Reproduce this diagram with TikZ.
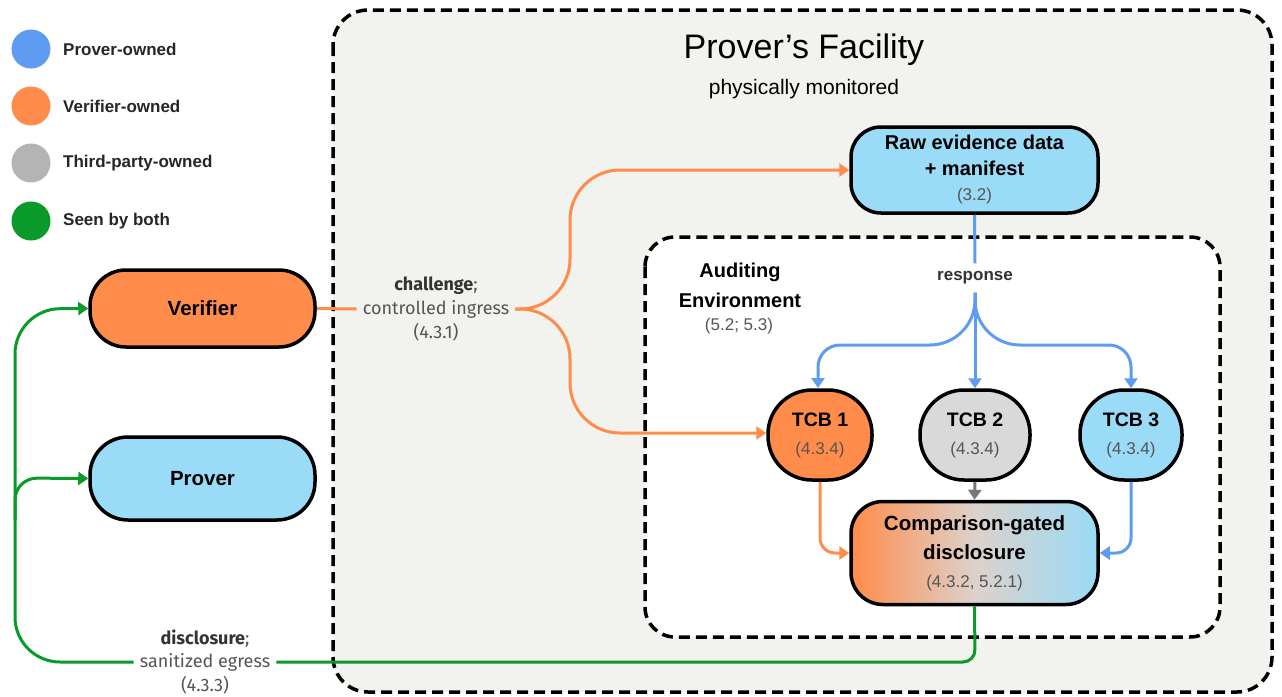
\documentclass[tikz,border=0pt]{standalone}
\usepackage{fontspec}
\setmainfont{Liberation Sans}
\newfontfamily\lblfont{Fira Sans}
\usetikzlibrary{arrows.meta}
\definecolor{pblue}{HTML}{5E9CF2}
\definecolor{vorange}{HTML}{FF8C4A}
\definecolor{tgray}{HTML}{B4B4B4}
\definecolor{bgreen}{HTML}{0A9A2A}
\definecolor{lblue}{HTML}{9ADBF7}
\definecolor{facbg}{HTML}{F2F2EE}
\definecolor{tcbgray}{HTML}{D9D9D9}
\definecolor{arrgray}{HTML}{777777}
\definecolor{txtgray}{HTML}{555555}
\definecolor{darktxt}{HTML}{333333}
\tikzset{
  x=1pt, y=-1pt,
  nodebox/.style={draw=black, line width=3.5pt, align=center, inner sep=0pt, font=\fontsize{20}{26}\selectfont},
  conn/.style={line width=3pt},
  tip/.style={-{Triangle[length=10pt,width=13pt]}},
  refn/.style={font=\fontsize{17}{18}\selectfont, text=txtgray},
  legtxt/.style={anchor=west, font=\fontsize{17}{18}\selectfont\bfseries, text=black!85, inner sep=0pt},
  lbl/.style={font=\lblfont\fontsize{18}{20}\selectfont, text=txtgray, inner sep=6pt},
}
\newcommand{\reftxt}[1]{{\fontsize{17}{18}\selectfont\color{txtgray}#1}}
\begin{document}
\begin{tikzpicture}
\useasboundingbox (0,0) rectangle (1282,696);
\fill[white] (0,0) rectangle (1282,696);

% legend
\fill[pblue] (31,49) circle (19.5);
\node[legtxt] (l1) at (63,49) {Prover-owned};
\fill[vorange] (31,106) circle (19.5);
\node[legtxt] (l2) at (63,106) {Verifier-owned};
\fill[tgray] (31,163) circle (19.5);
\node[legtxt] (l3) at (63,163) {Third-party-owned};
\fill[bgreen] (31,221) circle (19.5);
\node[legtxt] (l4) at (63,221) {Seen by both};

% facility
\draw[fill=facbg, line width=3.5pt, dash pattern=on 11pt off 6pt, rounded corners=35] (333,10) rectangle (1272,692);
\node (title) at (804,50) {\fontsize{34}{38}\selectfont Prover’s Facility};
\node (phys) at (804,89) {\fontsize{21}{24}\selectfont physically monitored};

% auditing environment
\draw[fill=white, line width=3.5pt, dash pattern=on 11pt off 6pt, rounded corners=30] (645,237) rectangle (1220,637);
\node[align=center, font=\fontsize{20}{30}\selectfont\bfseries] (audit) at (740,285) {Auditing\\Environment};
\node[refn] (auditref) at (739,326) {(5.2; 5.3)};

% nodes
\node[nodebox, fill=vorange, minimum width=225pt, minimum height=77pt, rounded corners=36pt, font=\fontsize{20.5}{24}\selectfont\bfseries] (ver) at (202.5,308.5) {Verifier};
\node[nodebox, fill=lblue, minimum width=225pt, minimum height=83pt, rounded corners=38pt, font=\fontsize{20.5}{24}\selectfont\bfseries] (pro) at (202.5,478.5) {Prover};

\node[nodebox, fill=lblue, minimum width=247pt, minimum height=86pt, rounded corners=30pt] (raw) at (974.5,170)
  {\textbf{Raw evidence data}\\\textbf{+ manifest}\\[-1pt]\reftxt{(3.2)}};

\node[nodebox, fill=vorange, minimum width=104pt, minimum height=90pt, rounded corners=44pt, font=\fontsize{19.5}{28}\selectfont] (tcb1) at (820,435)
  {\textbf{TCB 1}\\\reftxt{(4.3.4)}};
\node[nodebox, fill=tcbgray, minimum width=110pt, minimum height=90pt, rounded corners=44pt, font=\fontsize{19.5}{28}\selectfont] (tcb2) at (975,435)
  {\textbf{TCB 2}\\\reftxt{(4.3.4)}};
\node[nodebox, fill=lblue, minimum width=102pt, minimum height=90pt, rounded corners=44pt, font=\fontsize{19.5}{28}\selectfont] (tcb3) at (1131,435)
  {\textbf{TCB 3}\\\reftxt{(4.3.4)}};

\node[nodebox, left color=vorange, right color=lblue, middle color=tcbgray!90!vorange, minimum width=247pt, minimum height=103pt, rounded corners=32pt, font=\fontsize{20.5}{29}\selectfont] (cmp) at (974.5,553)
  {\textbf{Comparison-gated}\\\textbf{disclosure}\\[-1pt]\reftxt{(4.3.2, 5.2.1)}};

% challenge
\node[lbl] (cing) at (436,309) {controlled ingress};
\node[lbl, inner sep=0pt] (chal) at (436,286) {\textcolor{darktxt}{\textbf{challenge}};};
\node[lbl, inner sep=0pt] (cref) at (436,332) {(4.3.1)};
\draw[conn, vorange] (ver.east) -- (cing.west);
\draw[conn, vorange, tip, rounded corners=50] (cing.east) -- (570,309) -- (570,170) -- (raw.west);
\draw[conn, vorange, tip, rounded corners=50] (cing.east) -- (570,309) -- (570,433) -- (tcb1.west |- 0,433);

% response
\node[font=\fontsize{17}{18}\selectfont\bfseries, text=black!80, inner sep=8pt] (resp) at (975,278) {response};
\draw[conn, pblue] (raw.south) -- (resp.north);
\draw[conn, pblue, tip] (resp.south) -- (tcb2.north);
\draw[conn, pblue, tip] (resp.south) [rounded corners=45] -- (975,345) [rounded corners=22] -- (818,345) -- (818,388);
\draw[conn, pblue, tip] (resp.south) [rounded corners=45] -- (975,345) [rounded corners=22] -- (1131,345) -- (tcb3.north);

% into comparison
\draw[conn, vorange, tip, rounded corners=15] (tcb1.south) -- (820,553) -- (cmp.west);
\draw[conn, arrgray, tip] (tcb2.south) -- (cmp.north);
\draw[conn, pblue, tip, rounded corners=15] (tcb3.south) -- (1131,553) -- (cmp.east);

% disclosure
\node[lbl] (segr) at (205,662) {sanitized egress};
\node[lbl, inner sep=0pt] (disc) at (205,639) {\textcolor{darktxt}{\textbf{disclosure}};};
\node[lbl, inner sep=0pt] (dref) at (205,685) {(4.3.3)};
\draw[conn, bgreen, rounded corners=12] (cmp.south) -- (975,662) -- (segr.east);
\draw[conn, bgreen, tip, rounded corners=45] (segr.west) -- (15,662) -- (15,309) [rounded corners=22] -- (ver.west);
\draw[conn, bgreen, tip, rounded corners=22] (15,520) -- (15,478) -- (pro.west);
\end{tikzpicture}
\end{document}
